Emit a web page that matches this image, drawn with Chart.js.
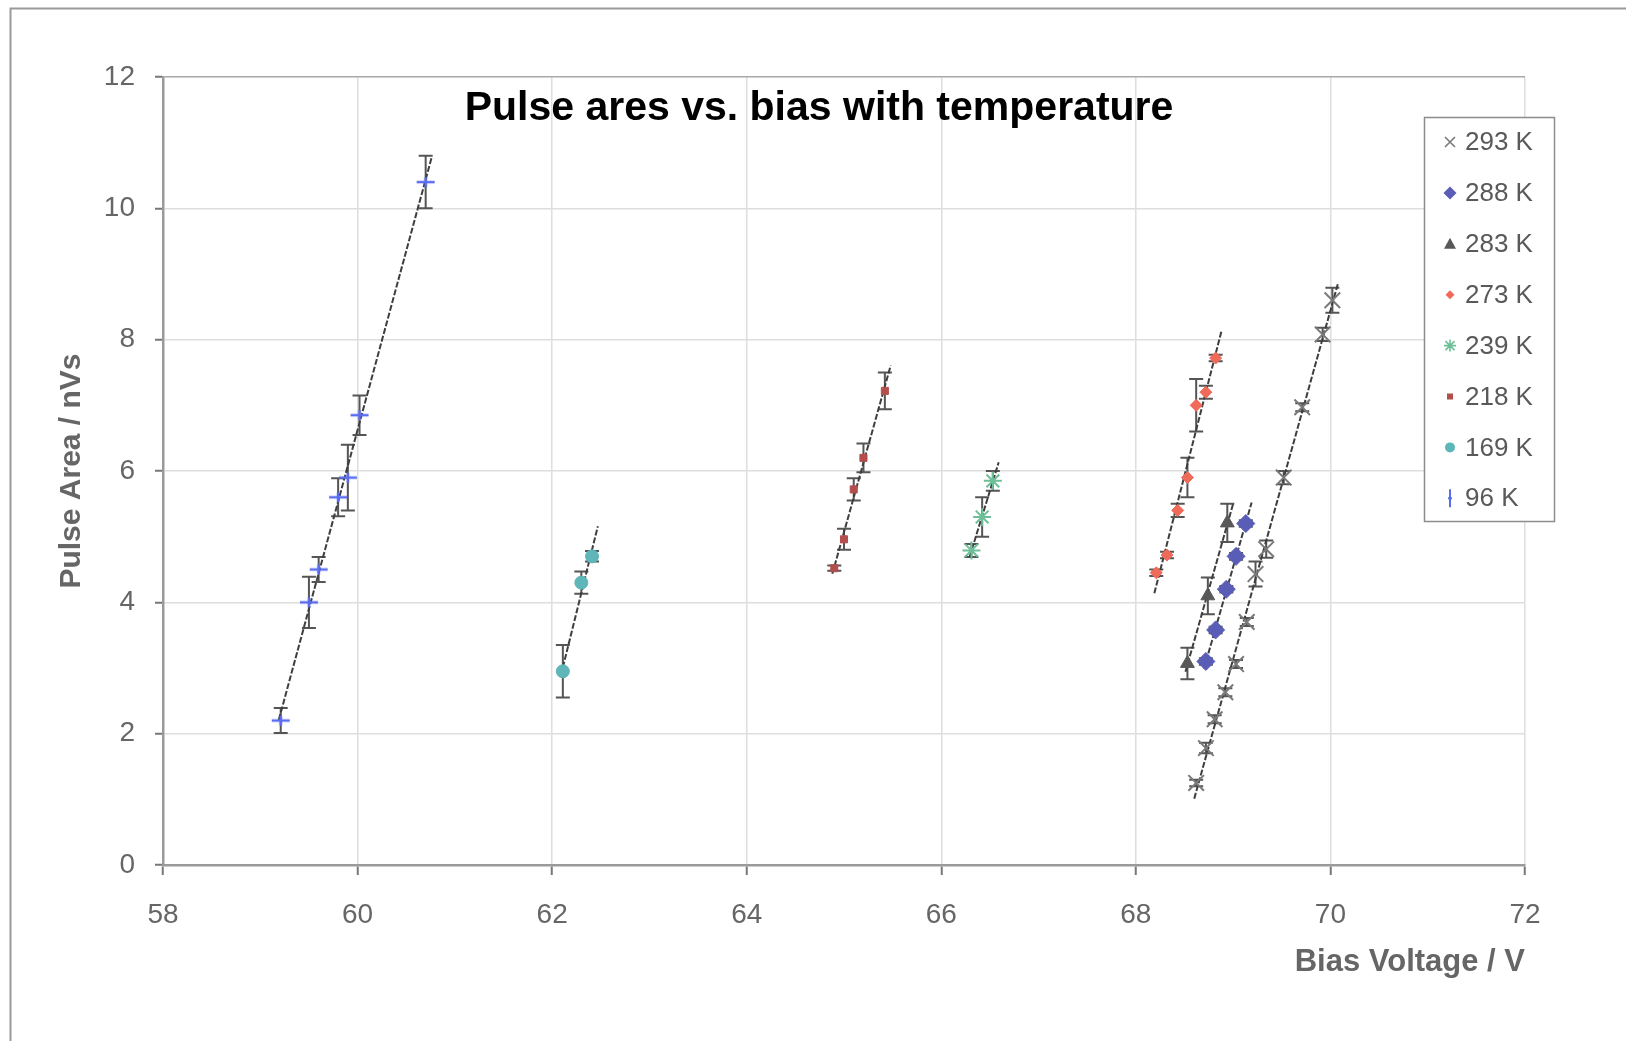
<!DOCTYPE html>
<html>
<head>
<meta charset="utf-8">
<title>Pulse area vs. bias</title>
<style>
  html, body { margin: 0; padding: 0; background: #ffffff; }
  #wrap { position: relative; width: 1626px; height: 1041px; }
</style>
<script src="https://cdn.jsdelivr.net/npm/chart.js@4.4.1/dist/chart.umd.min.js"></script>
</head>
<body>
<div id="wrap"><canvas id="chart" width="1626" height="1041"></canvas></div>
<script>
// ---- measured data: bias voltage (V), pulse area (nVs) and its error ----
const temps = ['293 K', '288 K', '283 K', '273 K', '239 K', '218 K', '169 K', '96 K'];

const bias293 = [68.62, 68.72, 68.81, 68.92, 69.03, 69.14, 69.23, 69.34, 69.52, 69.71, 69.92, 70.02];
const area293 = [1.25, 1.78, 2.22, 2.63, 3.06, 3.70, 4.43, 4.81, 5.90, 6.97, 8.08, 8.60];
const err293  = [0.05, 0.08, 0.06, 0.06, 0.06, 0.06, 0.19, 0.13, 0.10, 0.06, 0.10, 0.19];

const bias288 = [68.72, 68.82, 68.93, 69.03, 69.13];
const area288 = [3.10, 3.58, 4.20, 4.70, 5.20];
const err288  = [0.05, 0.05, 0.05, 0.05, 0.05];

const bias283 = [68.53, 68.74, 68.94];
const area283 = [3.07, 4.10, 5.21];
const err283  = [0.24, 0.28, 0.29];

const bias273 = [68.21, 68.32, 68.43, 68.53, 68.62, 68.72, 68.82];
const area273 = [4.45, 4.72, 5.40, 5.90, 7.00, 7.20, 7.72];
const err273  = [0.05, 0.05, 0.10, 0.30, 0.40, 0.10, 0.05];

const bias239 = [66.31, 66.42, 66.53];
const area239 = [4.79, 5.30, 5.85];
const err239  = [0.10, 0.30, 0.15];

const bias218 = [64.90, 65.00, 65.10, 65.20, 65.42];
const area218 = [4.52, 4.96, 5.72, 6.20, 7.22];
const err218  = [0.04, 0.16, 0.17, 0.22, 0.28];

const bias169 = [62.11, 62.30, 62.41];
const area169 = [2.95, 4.30, 4.70];
const err169  = [0.40, 0.17, 0.08];

const bias96 = [59.21, 59.50, 59.60, 59.80, 59.90, 60.02, 60.70];
const area96 = [2.20, 4.00, 4.50, 5.60, 5.90, 6.85, 10.40];
const err96  = [0.19, 0.39, 0.19, 0.29, 0.50, 0.30, 0.40];

const xTicks = [58, 60, 62, 64, 66, 68, 70, 72];
const yTicks = [0, 2, 4, 6, 8, 10, 12];

// ---- appearance ----
const FONT = "'Liberation Sans', Arial, Helvetica, sans-serif";
const TEXT_GREY = '#666666';

// plus-shaped marker with a wide horizontal stroke
function plusMarker(color) {
  const c = document.createElement('canvas');
  c.width = 22; c.height = 14;
  const g = c.getContext('2d');
  g.strokeStyle = color; g.lineWidth = 2.5;
  g.beginPath();
  g.moveTo(2, 7); g.lineTo(20, 7);
  g.moveTo(11, 2); g.lineTo(11, 12);
  g.stroke();
  return c;
}

const series = [
  { label: temps[0], xs: bias293, ys: area293, err: err293, style: 'crossRot', color: '#7a7a7a', radius: 11, bw: 2 },
  { label: temps[1], xs: bias288, ys: area288, err: err288, style: 'rectRot',  color: '#5a5db6', radius: 9, bw: 1 },
  { label: temps[2], xs: bias283, ys: area283, err: err283, style: 'triangle', color: '#585858', radius: 8, bw: 1 },
  { label: temps[3], xs: bias273, ys: area273, err: err273, style: 'rectRot',  color: '#f06a5a', radius: 6, bw: 1 },
  { label: temps[4], xs: bias239, ys: area239, err: err239, style: 'star',     color: '#6cbf97', radius: 9, bw: 2 },
  { label: temps[5], xs: bias218, ys: area218, err: err218, style: 'rect',     color: '#b24f4d', radius: 5, bw: 1 },
  { label: temps[6], xs: bias169, ys: area169, err: err169, style: 'circle',   color: '#5fb6b8', radius: 6.5, bw: 1 },
  { label: temps[7], xs: bias96,  ys: area96,  err: err96,  style: 'plus',     color: '#5a6cf0', radius: 8, bw: 2 }
];

// least-squares straight line through a run, drawn a little past its end points
function trendPoints(xs, ys) {
  const n = xs.length;
  const mx = xs.reduce((a, b) => a + b, 0) / n;
  const my = ys.reduce((a, b) => a + b, 0) / n;
  let sxx = 0, sxy = 0;
  for (let i = 0; i < n; i++) { sxx += (xs[i] - mx) ** 2; sxy += (xs[i] - mx) * (ys[i] - my); }
  const k = sxy / sxx;
  const x0 = Math.min(...xs) - 0.02, x1 = Math.max(...xs) + 0.06;
  return [{ x: x0, y: my + k * (x0 - mx) }, { x: x1, y: my + k * (x1 - mx) }];
}

const datasets = [];
series.forEach(s => {
  datasets.push({
    label: s.label,
    data: s.xs.map((x, i) => ({ x, y: s.ys[i] })),
    pointStyle: s.style === 'plus' ? plusMarker(s.color) : s.style,
    pointRadius: s.radius,
    pointHoverRadius: s.radius,
    pointBorderWidth: s.bw,
    pointBackgroundColor: s.color,
    pointBorderColor: s.color,
    showLine: false,
    order: 0
  });
  datasets.push({
    label: s.label + ' trend',
    data: trendPoints(s.xs, s.ys),
    showLine: true,
    pointRadius: 0,
    borderColor: '#3e3e3e',
    borderWidth: 2,
    borderDash: [6, 2],
    order: 1
  });
});

// white page with the outer frame
const framePlugin = {
  id: 'frame',
  beforeDraw(chart) {
    const ctx = chart.ctx;
    ctx.save();
    ctx.fillStyle = '#ffffff';
    ctx.fillRect(0, 0, chart.width, chart.height);
    ctx.strokeStyle = '#9a9a9a';
    ctx.lineWidth = 2;
    ctx.beginPath();
    ctx.moveTo(10.5, chart.height);
    ctx.lineTo(10.5, 8.5);
    ctx.lineTo(chart.width, 8.5);
    ctx.stroke();
    ctx.restore();
  }
};

// vertical error bars with caps
const errorBarPlugin = {
  id: 'errorBars',
  beforeDatasetsDraw(chart) {
    const ctx = chart.ctx, xs = chart.scales.x, ys = chart.scales.y;
    ctx.save();
    ctx.strokeStyle = '#555555';
    ctx.lineWidth = 2;
    series.forEach(s => {
      s.xs.forEach((x, i) => {
        const e = s.err[i];
        if (!e) return;
        const px = xs.getPixelForValue(x);
        const top = ys.getPixelForValue(s.ys[i] + e);
        const bot = ys.getPixelForValue(s.ys[i] - e);
        ctx.beginPath();
        ctx.moveTo(px, top); ctx.lineTo(px, bot);
        ctx.moveTo(px - 7, top); ctx.lineTo(px + 7, top);
        ctx.moveTo(px - 7, bot); ctx.lineTo(px + 7, bot);
        ctx.stroke();
      });
    });
    ctx.restore();
  }
};

// heading inside the plot area
const headingPlugin = {
  id: 'heading',
  afterDraw(chart) {
    const ctx = chart.ctx;
    ctx.save();
    ctx.fillStyle = '#000000';
    ctx.font = 'bold 41px ' + FONT;
    ctx.textAlign = 'center';
    ctx.textBaseline = 'middle';
    ctx.fillText('Pulse ares vs. bias with temperature', 819, 109);
    ctx.restore();
  }
};

function legendMarker(ctx, s, x, y) {
  ctx.save();
  ctx.strokeStyle = s.color; ctx.fillStyle = s.color; ctx.lineWidth = 1.6;
  ctx.beginPath();
  switch (s.style) {
    case 'crossRot':
      ctx.moveTo(x - 5, y - 5); ctx.lineTo(x + 5, y + 5);
      ctx.moveTo(x + 5, y - 5); ctx.lineTo(x - 5, y + 5);
      ctx.stroke(); break;
    case 'rectRot': {
      const r = s.radius > 7 ? 6.5 : 4.5;
      ctx.moveTo(x, y - r); ctx.lineTo(x + r, y); ctx.lineTo(x, y + r); ctx.lineTo(x - r, y);
      ctx.closePath(); ctx.fill(); break;
    }
    case 'triangle':
      ctx.moveTo(x, y - 6); ctx.lineTo(x + 6, y + 5); ctx.lineTo(x - 6, y + 5);
      ctx.closePath(); ctx.fill(); break;
    case 'star':
      ctx.moveTo(x - 6, y); ctx.lineTo(x + 6, y);
      ctx.moveTo(x, y - 6); ctx.lineTo(x, y + 6);
      ctx.moveTo(x - 4.5, y - 4.5); ctx.lineTo(x + 4.5, y + 4.5);
      ctx.moveTo(x + 4.5, y - 4.5); ctx.lineTo(x - 4.5, y + 4.5);
      ctx.stroke(); break;
    case 'rect':
      ctx.fillRect(x - 3, y - 3, 6, 6); break;
    case 'circle':
      ctx.arc(x, y, 5, 0, Math.PI * 2); ctx.fill(); break;
    default:
      ctx.lineWidth = 2;
      ctx.moveTo(x, y - 9); ctx.lineTo(x, y + 9);
      ctx.moveTo(x - 2, y); ctx.lineTo(x + 2, y);
      ctx.stroke();
  }
  ctx.restore();
}

// boxed legend over the right edge of the plot
const boxLegendPlugin = {
  id: 'boxLegend',
  afterDraw(chart) {
    const ctx = chart.ctx;
    const left = 1424, top = 117, w = 130, h = 404, step = 50.9;
    ctx.save();
    ctx.fillStyle = '#ffffff';
    ctx.fillRect(left, top, w, h);
    ctx.strokeStyle = '#8c8c8c';
    ctx.lineWidth = 1.5;
    ctx.strokeRect(left + 0.5, top + 0.5, w, h);
    ctx.font = '26px ' + FONT;
    ctx.fillStyle = '#595959';
    ctx.textBaseline = 'middle';
    ctx.textAlign = 'left';
    series.forEach((s, i) => {
      const y = top + 25 + i * step;
      legendMarker(ctx, s, 1450, y);
      ctx.fillText(s.label, 1465, y + 1);
    });
    ctx.restore();
  }
};

new Chart(document.getElementById('chart'), {
  type: 'scatter',
  data: { datasets },
  options: {
    responsive: false,
    animation: false,
    devicePixelRatio: 1,
    layout: { padding: { top: 77, right: 101, left: 0, bottom: 0 } },
    plugins: {
      legend: { display: false },
      tooltip: { enabled: false },
      title: { display: false }
    },
    scales: {
      x: {
        type: 'linear',
        position: 'bottom',
        min: xTicks[0],
        max: xTicks[xTicks.length - 1],
        afterBuildTicks(scale) { scale.ticks = xTicks.map(v => ({ value: v })); },
        afterFit(scale) { scale.height = 176; },
        ticks: {
          color: TEXT_GREY,
          padding: 23,
          font: { family: FONT, size: 28 }
        },
        grid: {
          color: '#dedede',
          lineWidth: 1.5,
          tickLength: 10,
          tickColor: '#777777',
          tickWidth: 2
        },
        border: { color: '#9a9a9a', width: 2.5 },
        title: {
          display: true,
          text: 'Bias Voltage / V',
          align: 'end',
          color: TEXT_GREY,
          font: { family: FONT, size: 31, weight: 'bold' },
          padding: { top: 0, bottom: 60 }
        }
      },
      y: {
        type: 'linear',
        min: yTicks[0],
        max: yTicks[yTicks.length - 1],
        afterBuildTicks(scale) { scale.ticks = yTicks.map(v => ({ value: v })); },
        afterFit(scale) { scale.width = 163; },
        ticks: {
          color: TEXT_GREY,
          padding: 20,
          font: { family: FONT, size: 28 }
        },
        grid: {
          color: ctx => (ctx.tick && ctx.tick.value === 12 ? '#a8a8a8' : '#dedede'),
          lineWidth: 1.5,
          tickLength: 8,
          tickColor: '#777777',
          tickWidth: 2
        },
        border: { color: '#9a9a9a', width: 2.5 },
        title: {
          display: true,
          text: 'Pulse Area / nVs',
          align: 'center',
          color: TEXT_GREY,
          font: { family: FONT, size: 30, weight: 'bold' },
          padding: { top: 54, bottom: 0 }
        }
      }
    }
  },
  plugins: [framePlugin, errorBarPlugin, headingPlugin, boxLegendPlugin]
});
</script>
</body>
</html>
